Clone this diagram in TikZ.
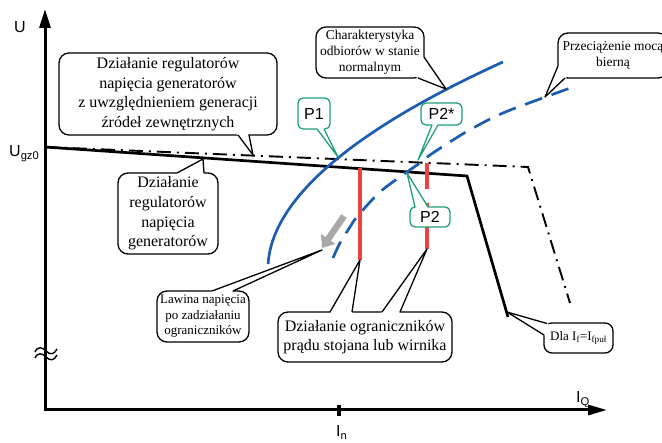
\documentclass[tikz,border=0pt]{standalone}
\usepackage{fontspec}
\setmainfont{Liberation Serif}
\newfontfamily\sanslab{Liberation Sans}
\usetikzlibrary{arrows.meta,calc}
\definecolor{curveblue}{RGB}{28,92,178}
\definecolor{limred}{RGB}{236,66,66}
\definecolor{ptgreen}{RGB}{32,160,118}
\definecolor{arrgray}{RGB}{168,168,168}
\newcommand{\ptr}[5]{%
  \fill[white] ($(#3)!2.5pt!(#2.center)$) -- (#3) -- (#4) -- (#5) -- ($(#5)!2.5pt!(#2.center)$) -- cycle;
  \draw[#1] (#3) -- (#4) -- (#5);}
\tikzset{
  axisline/.style={line width=3pt, black, line join=miter},
  regline/.style={line width=2.7pt, black, line join=miter},
  extline/.style={line width=1.9pt, black, dash pattern=on 14pt off 6pt on 2pt off 6pt},
  normcurve/.style={line width=2.7pt, curveblue},
  overcurve/.style={line width=2.7pt, curveblue, dash pattern=on 18pt off 10pt},
  limline/.style={line width=3.6pt, limred},
  callbox/.style={draw=black, line width=1.3pt, fill=white, rounded corners=10pt, align=center, inner sep=0pt},
  callptr/.style={black, line width=1.3pt, line join=round},
  ptbox/.style={draw=ptgreen, line width=1.3pt, fill=white, rounded corners=5pt, inner sep=0pt, font=\sanslab\fontsize{16}{18}\selectfont},
  ptptr/.style={ptgreen, line width=1.3pt, line join=round},
  bigtxt/.style={font=\fontsize{16}{19.6}\selectfont},
  midtxt/.style={font=\fontsize{13.5}{16}\selectfont},
  lawtxt/.style={font=\fontsize{13}{15.5}\selectfont},
  axlab/.style={font=\sanslab\fontsize{16}{18}\selectfont, inner sep=0pt}
}
\begin{document}
\begin{tikzpicture}[x=1pt,y=-1pt]
\useasboundingbox (0,0) rectangle (662,443);

% axes
\coordinate (ytop) at (45,9);
\coordinate (origin) at (45,410);
\coordinate (xend) at (607,410);
\draw[axisline, {Triangle[length=19pt,width=11pt]}-{Triangle[length=19pt,width=10pt]}] (ytop) -- (origin) -- (xend);
\coordinate (tickA) at (339,405);
\coordinate (tickB) at (339,416);
\draw[line width=3.5pt] (tickA) -- (tickB);
% axis break
\draw[line width=1.4pt] (35,352) .. controls (38,346) and (42,347) .. (46,351) .. controls (50,355) and (54,355) .. (57,349);
\draw[line width=1.4pt] (35,358) .. controls (38,352) and (42,353) .. (46,357) .. controls (50,361) and (54,361) .. (57,355);

% axis labels
\node[axlab, anchor=base] (labU) at (20,33) {U};
\node[axlab, anchor=base west] (labUgz) at (9,157) {U\textsubscript{gz0}};
\node[axlab, anchor=base west] (labIQ) at (576,403) {I\textsubscript{Q}};
\node[axlab, anchor=base west] (labIn) at (336,437) {I\textsubscript{n}};

% characteristics
\coordinate (g0) at (45,147);
\coordinate (g1) at (467,176);
\coordinate (g2) at (508,317);
\coordinate (e1) at (528,167);
\coordinate (e2) at (570,303);
\draw[extline] (g0) -- (e1) -- (e2);
\draw[regline] (g0) -- (g1) -- (g2);

\draw[normcurve] plot[domain=4:206, samples=80, variable=\t, smooth] ({268+70*pow(\t/110,1.93)}, {268-\t});
\draw[overcurve] plot[smooth, tension=0.6] coordinates {(333,258) (340,243) (350,227) (357,217) (380,192) (407,172) (420,163) (430,155) (453,140) (473,128) (503,113) (540,99) (576,86)};

% limiter lines
\coordinate (r1a) at (360,168);
\coordinate (r1b) at (360,260);
\coordinate (r2a) at (427,163);
\coordinate (r2b) at (427,189);
\coordinate (r2c) at (427,203);
\coordinate (r2d) at (427,249);
\draw[limline] (r1a) -- (r1b);
\draw[limline] (r2a) -- (r2b);
\draw[limline] (r2c) -- (r2d);

% gray arrow
\coordinate (gaS) at (344,216);
\coordinate (gaE) at (322,248);
\draw[line width=6.5pt, arrgray, -{Triangle[length=11pt,width=17pt]}] (gaS) -- (gaE);

% callouts
\node[callbox, bigtxt, minimum width=218pt, minimum height=82pt] (boxA) at (168,94)
  {Działanie regulatorów\\napięcia generatorów\\z uwzględnieniem generacji\\źródeł zewnętrznych};
\coordinate (tipA) at (253,155);
\ptr{callptr}{boxA}{238,135}{tipA}{249,135}

\node[callbox, bigtxt, minimum width=100pt, minimum height=81pt] (boxB) at (168,213.5)
  {Działanie\\regulatorów\\napięcia\\generatorów};
\coordinate (tipB) at (203,159);
\ptr{callptr}{boxB}{177,173}{tipB}{204,173}

\node[callbox, midtxt, minimum width=108pt, minimum height=51pt] (boxC) at (370,52.5)
  {Charakterystyka\\odbiorów w stanie\\normalnym};
\coordinate (tipC) at (446,89);
\ptr{callptr}{boxC}{424,57}{tipC}{418,78}

\node[callbox, midtxt, minimum width=110pt, minimum height=45pt] (boxD) at (613,55.5)
  {Przeciążenie mocą\\bierną};
\coordinate (tipD) at (545,97);
\ptr{callptr}{boxD}{558,66}{tipD}{565,78}

\node[callbox, lawtxt, minimum width=92pt, minimum height=51pt] (boxE) at (203,316.5)
  {Lawina napięcia\\po zadziałaniu\\ograniczników};
\coordinate (tipE) at (322,250);
\ptr{callptr}{boxE}{212,291}{tipE}{233,291}

\node[callbox, font=\fontsize{16}{19}\selectfont, minimum width=174pt, minimum height=50pt] (boxF) at (365,337)
  {Działanie ograniczników\\prądu stojana lub wirnika};
\coordinate (tipF1) at (360,260);
\coordinate (tipF2) at (427,249);
\ptr{callptr}{boxF}{330,312}{tipF1}{352,312}
\ptr{callptr}{boxF}{382,312}{tipF2}{400,312}

\node[callbox, rounded corners=8pt, font=\fontsize{13}{15}\selectfont, minimum width=69pt, minimum height=30pt] (boxG) at (578.5,338)
  {Dla I\textsubscript{f}=I\textsubscript{fpuł}};
\coordinate (tipG) at (507,312);
\ptr{callptr}{boxG}{547,323.5}{tipG}{544,335}

% operating points
\node[ptbox, minimum width=32pt, minimum height=31pt] (pA) at (314,113.5) {P1};
\coordinate (tipP1) at (338,157);
\ptr{ptptr}{pA}{317,129}{tipP1}{324,129}

\node[ptbox, minimum width=41pt, minimum height=22pt] (pB) at (441.5,114) {P2*};
\coordinate (tipP2s) at (418,160);
\ptr{ptptr}{pB}{432,125}{tipP2s}{438,125}

\node[ptbox, minimum width=40pt, minimum height=20pt] (pC) at (430,217) {P2};
\coordinate (tipP2) at (407,173);
\ptr{ptptr}{pC}{415,207}{tipP2}{428,207}
\end{tikzpicture}
\end{document}
